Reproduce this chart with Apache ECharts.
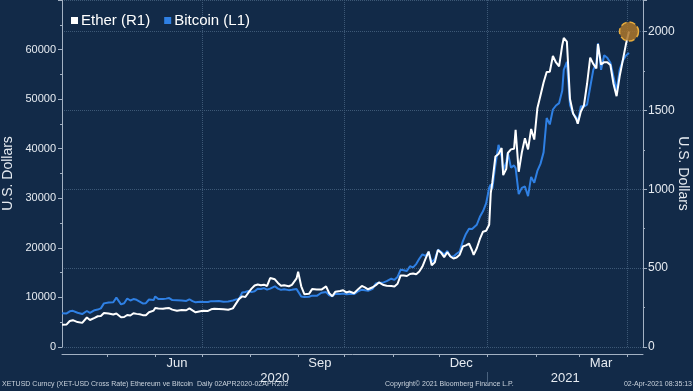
<!DOCTYPE html>
<html><head><meta charset="utf-8">
<script src="https://cdn.jsdelivr.net/npm/echarts@6/dist/echarts.min.js"></script>
<style>html,body{margin:0;padding:0;background:#122a48;}#c{width:693px;height:391px;}</style>
</head><body><div id="c"></div>
<script>
// ---- data ----
const dates = ['2020-04-02','2020-04-05','2020-04-07','2020-04-09','2020-04-12','2020-04-15','2020-04-18','2020-04-20','2020-04-23','2020-04-25','2020-04-27','2020-04-29','2020-04-30',
'2020-05-02','2020-05-05','2020-05-07','2020-05-10','2020-05-12','2020-05-14','2020-05-16','2020-05-18','2020-05-20','2020-05-22','2020-05-24','2020-05-26','2020-05-28','2020-05-31',
'2020-06-01','2020-06-03','2020-06-06','2020-06-08','2020-06-10','2020-06-12','2020-06-15','2020-06-18','2020-06-21','2020-06-23','2020-06-25','2020-06-27','2020-06-30',
'2020-07-02','2020-07-05','2020-07-07','2020-07-09','2020-07-12','2020-07-15','2020-07-18','2020-07-21','2020-07-23','2020-07-25','2020-07-27','2020-07-29','2020-07-31',
'2020-08-02','2020-08-04','2020-08-06','2020-08-08','2020-08-10','2020-08-12','2020-08-14','2020-08-17','2020-08-19','2020-08-21','2020-08-23','2020-08-26','2020-08-28','2020-08-31',
'2020-09-01','2020-09-03','2020-09-05','2020-09-08','2020-09-10','2020-09-13','2020-09-16','2020-09-19','2020-09-21','2020-09-23','2020-09-25','2020-09-28','2020-09-30',
'2020-10-02','2020-10-04','2020-10-07','2020-10-10','2020-10-12','2020-10-14','2020-10-16','2020-10-19','2020-10-21','2020-10-23','2020-10-26','2020-10-28','2020-10-31',
'2020-11-02','2020-11-04','2020-11-06','2020-11-08','2020-11-10','2020-11-12','2020-11-14','2020-11-16','2020-11-18','2020-11-20','2020-11-22','2020-11-24','2020-11-26','2020-11-28','2020-11-30',
'2020-12-02','2020-12-04','2020-12-06','2020-12-08','2020-12-10','2020-12-12','2020-12-14','2020-12-16','2020-12-18','2020-12-20','2020-12-22','2020-12-23','2020-12-25','2020-12-27','2020-12-29','2020-12-31',
'2021-01-02','2021-01-03','2021-01-04','2021-01-06','2021-01-08','2021-01-10','2021-01-11','2021-01-13','2021-01-14','2021-01-16','2021-01-18','2021-01-19','2021-01-21','2021-01-23','2021-01-25','2021-01-27','2021-01-29','2021-01-31',
'2021-02-02','2021-02-04','2021-02-06','2021-02-08','2021-02-10','2021-02-12','2021-02-14','2021-02-16','2021-02-18','2021-02-19','2021-02-21','2021-02-23','2021-02-25','2021-02-27','2021-02-28',
'2021-03-02','2021-03-04','2021-03-06','2021-03-08','2021-03-10','2021-03-12','2021-03-13','2021-03-15','2021-03-17','2021-03-19','2021-03-21','2021-03-23','2021-03-25','2021-03-27','2021-03-29','2021-03-31','2021-04-02'];

const bitcoin = [6790,6780,7200,7300,6910,6640,7260,6880,7430,7550,7790,8800,8660,
8980,9030,9950,8600,8820,9790,9380,9670,9520,9170,8790,8840,9580,9460,
10200,9670,9670,9760,9870,9460,9430,9400,9300,9630,9250,9010,9140,
9090,9070,9250,9250,9300,9130,9170,9380,9600,9710,11000,11100,11330,
11070,11230,11760,11700,11880,11570,11770,12250,11770,11520,11650,11470,11540,11680,
11970,10180,10100,10130,10360,10330,10950,11080,10420,10240,10740,10710,10780,
10620,10670,10670,11300,11560,11430,11320,11740,12820,12970,13030,13280,13780,
13550,14130,15590,15480,15330,16290,16070,16720,17800,18680,18400,19160,17150,17730,19630,
19200,18650,19360,18320,18250,18800,19250,21310,22800,23870,23820,23450,24660,26270,27360,28960,
32130,32780,31970,36770,40780,38360,35570,37320,39190,36180,36630,36070,30830,32100,32370,30430,34320,33110,
35510,36940,39260,46200,44900,47910,48720,49200,51680,55890,57540,48820,47090,46340,45140,
48560,48500,48880,52390,55890,57330,61240,55900,58870,58350,57350,54530,51700,55950,57750,58800,59300];

const ether = [141,143,165,170,158,153,187,171,185,195,197,216,206,
213,206,212,188,190,203,200,214,210,208,202,201,220,231,
247,244,242,246,247,237,230,235,233,245,232,220,226,
230,229,239,243,241,239,236,245,275,305,321,317,345,
370,390,396,391,395,387,437,429,406,388,391,385,394,435,
477,385,335,337,367,365,364,384,341,322,351,355,360,
346,352,341,370,387,378,366,379,392,409,393,388,386,
384,401,454,453,450,463,466,461,479,510,558,605,518,537,615,
598,570,601,574,561,567,585,637,644,656,612,584,626,685,731,737,
775,976,1043,1208,1224,1262,1090,1130,1230,1253,1257,1377,1111,1233,1323,1253,1382,1315,
1513,1594,1677,1744,1745,1845,1804,1780,1912,1959,1936,1572,1480,1446,1416,
1493,1533,1669,1834,1795,1766,1921,1791,1806,1806,1788,1669,1590,1717,1818,1919,2000];

const seriesNames = ['Ether (R1)', 'Bitcoin (L1)'];
const monthLabels = {'2020-06-15':'Jun','2020-09-15':'Sep','2020-12-15':'Dec','2021-03-15':'Mar'};
const yearLabels = {'2020-08-17':'2020','2021-02-20':'2021'};
const quarterStarts = ['2020-07-01','2020-10-01','2021-01-01','2021-04-01'];
const lastEther = {date:'2021-04-02', value:2000};
const footerLeft = 'XETUSD Curncy (XET-USD Cross Rate) Ethereum ve Bitcoin  Daily 02APR2020-02APR202';
const footerMid = 'Copyright\u00A9 2021 Bloomberg Finance L.P.';
const footerRight = '02-Apr-2021 08:35:13';

// ---- daily category axis ----
const categories = [];
for (let t = Date.UTC(2020,3,2); t <= Date.UTC(2021,3,11); t += 86400000) {
  categories.push(new Date(t).toISOString().slice(0,10));
}

const axisColor = '#a3b1c3';
const gridColor = '#3d5876';
const textColor = '#e6ebf1';
const font = 'Liberation Sans';

const chart = echarts.init(document.getElementById('c'), null, {renderer:'canvas'});
chart.setOption({
  backgroundColor: '#122a48',
  animation: false,
  textStyle: {fontFamily: font},
  grid: {left: 62, right: 50, top: 0, bottom: 44, outerBoundsMode: 'none', containLabel: false},
  legend: {
    data: seriesNames, left: 66, top: 8, icon: 'rect', itemWidth: 7, itemHeight: 7, itemGap: 14,
    textStyle: {color: '#ffffff', fontSize: 15, fontFamily: font, padding: [0,0,0,-2]}
  },
  xAxis: [{
    type: 'category', data: categories, boundaryGap: false, offset: 7, position: 'bottom',
    axisLine: {onZero: false, lineStyle: {color: axisColor}},
    axisTick: {interval: (i, v) => v.slice(8) === '01', length: 3, lineStyle: {color: axisColor}},
    axisLabel: {interval: (i, v) => v in monthLabels, formatter: v => monthLabels[v] || '', color: textColor, fontSize: 13, margin: 3},
    splitLine: {show: true, interval: (i, v) => quarterStarts.includes(v), lineStyle: {color: gridColor, type: 'dotted'}}
  }, {
    type: 'category', data: categories, boundaryGap: false, offset: 25, position: 'bottom',
    axisLine: {show: false, onZero: false},
    axisTick: {interval: (i, v) => v === '2021-01-01', length: 12, lineStyle: {color: '#4a627e'}},
    axisLabel: {interval: (i, v) => v in yearLabels, formatter: v => yearLabels[v] || '', color: textColor, fontSize: 13, margin: 0},
    splitLine: {show: false}
  }],
  yAxis: [{
    type: 'value', position: 'left', min: 0, max: 70000, interval: 10000,
    name: 'U.S. Dollars', nameLocation: 'middle', nameGap: 47, nameRotate: 90, nameMoveOverlap: false,
    nameTextStyle: {color: textColor, fontSize: 14},
    axisLine: {show: true, lineStyle: {color: axisColor}},
    axisTick: {show: true, length: 4, lineStyle: {color: axisColor}},
    minorTick: {show: true, splitNumber: 2, length: 2, lineStyle: {color: axisColor}},
    axisLabel: {color: textColor, fontSize: 11, margin: 6, showMaxLabel: false, formatter: v => String(v)},
    splitLine: {show: false}
  }, {
    type: 'value', position: 'right', min: 0, max: 2200, interval: 500,
    name: 'U.S. Dollars', nameLocation: 'middle', nameGap: 33, nameRotate: -90, nameMoveOverlap: false,
    nameTextStyle: {color: textColor, fontSize: 14},
    axisLine: {show: true, lineStyle: {color: axisColor}},
    axisTick: {show: true, length: 4, lineStyle: {color: axisColor}},
    minorTick: {show: true, splitNumber: 2, length: 2, lineStyle: {color: axisColor}},
    axisLabel: {color: textColor, fontSize: 12, margin: 5, showMaxLabel: false, formatter: v => String(v)},
    splitLine: {show: true, lineStyle: {color: gridColor, type: 'dotted'}}
  }],
  series: [{
    name: seriesNames[0], type: 'line', xAxisIndex: 0, yAxisIndex: 1,
    data: dates.map((d, i) => [d, ether[i]]),
    showSymbol: false, symbol: 'none', z: 3,
    lineStyle: {color: '#ffffff', width: 2}, itemStyle: {color: '#ffffff'},
    markPoint: {
      symbol: 'circle', symbolSize: 19, silent: true,
      label: {show: false},
      itemStyle: {color: 'rgba(172,118,42,0.85)', borderColor: '#e8ad3e', borderWidth: 1.5, borderType: 'dashed'},
      data: [{coord: [lastEther.date, lastEther.value]}]
    }
  }, {
    name: seriesNames[1], type: 'line', xAxisIndex: 0, yAxisIndex: 0,
    data: dates.map((d, i) => [d, bitcoin[i]]),
    showSymbol: false, symbol: 'none', z: 2,
    lineStyle: {color: '#2f80e4', width: 2}, itemStyle: {color: '#2f80e4'}
  }],
  graphic: [
    {type: 'text', left: 2, top: 381, style: {text: footerLeft, fill: '#c9d2dc', fontSize: 7, fontFamily: font}},
    {type: 'text', left: 385, top: 381, style: {text: footerMid, fill: '#c9d2dc', fontSize: 7, fontFamily: font}},
    {type: 'text', right: 1, top: 381, style: {text: footerRight, fill: '#c9d2dc', fontSize: 7, fontFamily: font}}
  ]
});
</script></body></html>
